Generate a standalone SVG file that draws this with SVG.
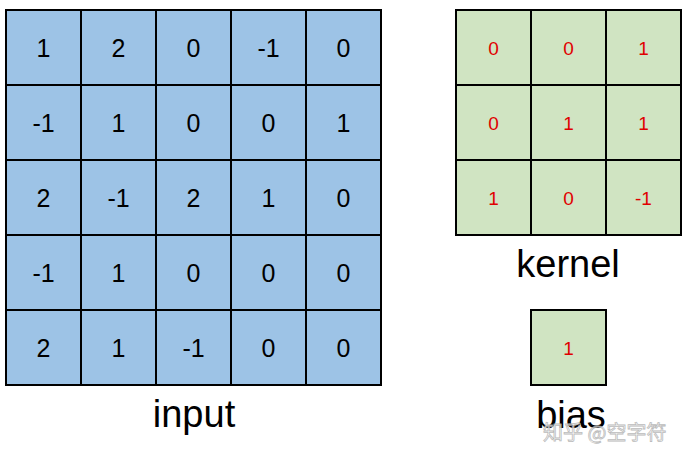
<svg xmlns="http://www.w3.org/2000/svg" width="689" height="459" viewBox="0 0 689 459">
<style>
.in{fill:#9DC3E6;stroke:#000;stroke-width:2}
.gr{fill:#D0E4C2;stroke:#000;stroke-width:2}
.n{font-family:"Liberation Sans",Arial,sans-serif;font-size:25px;fill:#000;text-anchor:middle;dominant-baseline:central}
.r{font-family:"Liberation Sans",Arial,sans-serif;font-size:19px;fill:#E00000;text-anchor:middle;dominant-baseline:central}
.lb{font-family:"Liberation Sans",Arial,sans-serif;font-size:38px;fill:#000;text-anchor:middle}
.wm{font-family:"Noto Sans CJK SC","Liberation Sans",sans-serif;font-size:20px;fill:#ffffff;stroke:#b0b0b0;stroke-width:0.8;opacity:0.85}
</style>
<rect width="689" height="459" fill="#fff"/>
<g id="input">
<rect class="in" x="6" y="10" width="375" height="375"/>
<path d="M81 10V385M156 10V385M231 10V385M306 10V385M6 85H381M6 160H381M6 235H381M6 310H381" stroke="#000" stroke-width="2" fill="none"/>
<g class="n">
<text x="43.5" y="48">1</text><text x="118.5" y="48">2</text><text x="193.5" y="48">0</text><text x="268.5" y="48">-1</text><text x="343.5" y="48">0</text>
<text x="43.5" y="123">-1</text><text x="118.5" y="123">1</text><text x="193.5" y="123">0</text><text x="268.5" y="123">0</text><text x="343.5" y="123">1</text>
<text x="43.5" y="198">2</text><text x="118.5" y="198">-1</text><text x="193.5" y="198">2</text><text x="268.5" y="198">1</text><text x="343.5" y="198">0</text>
<text x="43.5" y="273">-1</text><text x="118.5" y="273">1</text><text x="193.5" y="273">0</text><text x="268.5" y="273">0</text><text x="343.5" y="273">0</text>
<text x="43.5" y="348">2</text><text x="118.5" y="348">1</text><text x="193.5" y="348">-1</text><text x="268.5" y="348">0</text><text x="343.5" y="348">0</text>
</g>
<text class="lb" x="194" y="427">input</text>
</g>
<g id="kernel">
<rect class="gr" x="456" y="10" width="225" height="225"/>
<path d="M531 10V235M606 10V235M456 85H681M456 160H681" stroke="#000" stroke-width="2" fill="none"/>
<g class="r">
<text x="493.5" y="48">0</text><text x="568.5" y="48">0</text><text x="643.5" y="48">1</text>
<text x="493.5" y="123">0</text><text x="568.5" y="123">1</text><text x="643.5" y="123">1</text>
<text x="493.5" y="198">1</text><text x="568.5" y="198">0</text><text x="643.5" y="198">-1</text>
</g>
<text class="lb" x="568" y="277">kernel</text>
</g>
<g id="bias">
<rect class="gr" x="531" y="310" width="75" height="75"/>
<text class="r" x="568.5" y="348">1</text>
<text class="lb" x="571" y="428">bias</text>
</g>
<text class="wm" x="543" y="440">知乎 @空字符</text>
</svg>
